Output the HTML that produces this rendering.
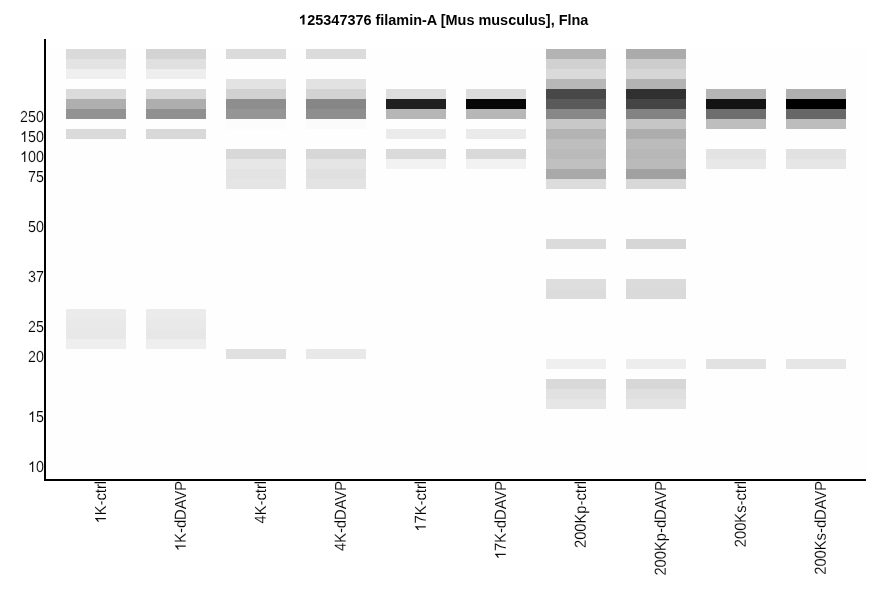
<!DOCTYPE html>
<html><head><meta charset="utf-8"><title>125347376 filamin-A [Mus musculus], Flna</title>
<style>
html,body{margin:0;padding:0;background:#fff;}
body{width:886px;height:595px;overflow:hidden;font-family:"Liberation Sans",sans-serif;}
svg{display:block;}
text{font-family:"Liberation Sans",sans-serif;fill:#000;}
.b{shape-rendering:crispEdges;}
.t{stroke:#fff;stroke-width:0.12px;}
.h{fill:none;stroke:none;}
.p{fill:#000;stroke:#fff;stroke-width:15px;}
</style></head><body>
<svg width="886" height="595" viewBox="0 0 886 595">
<rect x="0" y="0" width="886" height="595" fill="#ffffff"/>
<g class="b">
<rect x="46" y="49" width="820" height="430" fill="#fefefe"/>
<rect x="66" y="49" width="60" height="10" fill="#dadada"/>
<rect x="66" y="59" width="60" height="10" fill="#e3e3e3"/>
<rect x="66" y="69" width="60" height="10" fill="#efefef"/>
<rect x="66" y="89" width="60" height="10" fill="#dbdbdb"/>
<rect x="66" y="99" width="60" height="10" fill="#afafaf"/>
<rect x="66" y="109" width="60" height="10" fill="#929292"/>
<rect x="66" y="129" width="60" height="10" fill="#dadada"/>
<rect x="66" y="309" width="60" height="10" fill="#ebebeb"/>
<rect x="66" y="319" width="60" height="10" fill="#e9e9e9"/>
<rect x="66" y="329" width="60" height="10" fill="#e8e8e8"/>
<rect x="66" y="339" width="60" height="10" fill="#eeeeee"/>
<rect x="146" y="49" width="60" height="10" fill="#d3d3d3"/>
<rect x="146" y="59" width="60" height="10" fill="#e0e0e0"/>
<rect x="146" y="69" width="60" height="10" fill="#eeeeee"/>
<rect x="146" y="89" width="60" height="10" fill="#d9d9d9"/>
<rect x="146" y="99" width="60" height="10" fill="#aeaeae"/>
<rect x="146" y="109" width="60" height="10" fill="#909090"/>
<rect x="146" y="129" width="60" height="10" fill="#d8d8d8"/>
<rect x="146" y="309" width="60" height="10" fill="#ebebeb"/>
<rect x="146" y="319" width="60" height="10" fill="#e9e9e9"/>
<rect x="146" y="329" width="60" height="10" fill="#e7e7e7"/>
<rect x="146" y="339" width="60" height="10" fill="#eeeeee"/>
<rect x="226" y="49" width="60" height="10" fill="#dbdbdb"/>
<rect x="226" y="79" width="60" height="10" fill="#e3e3e3"/>
<rect x="226" y="89" width="60" height="10" fill="#d1d1d1"/>
<rect x="226" y="99" width="60" height="10" fill="#8e8e8e"/>
<rect x="226" y="109" width="60" height="10" fill="#959595"/>
<rect x="226" y="119" width="60" height="10" fill="#fcfcfc"/>
<rect x="226" y="149" width="60" height="10" fill="#d8d8d8"/>
<rect x="226" y="159" width="60" height="10" fill="#e7e7e7"/>
<rect x="226" y="169" width="60" height="10" fill="#e3e3e3"/>
<rect x="226" y="179" width="60" height="10" fill="#e5e5e5"/>
<rect x="226" y="349" width="60" height="10" fill="#e0e0e0"/>
<rect x="306" y="49" width="60" height="10" fill="#dbdbdb"/>
<rect x="306" y="79" width="60" height="10" fill="#e2e2e2"/>
<rect x="306" y="89" width="60" height="10" fill="#d3d3d3"/>
<rect x="306" y="99" width="60" height="10" fill="#868686"/>
<rect x="306" y="109" width="60" height="10" fill="#8e8e8e"/>
<rect x="306" y="119" width="60" height="10" fill="#fbfbfb"/>
<rect x="306" y="149" width="60" height="10" fill="#d7d7d7"/>
<rect x="306" y="159" width="60" height="10" fill="#e5e5e5"/>
<rect x="306" y="169" width="60" height="10" fill="#e0e0e0"/>
<rect x="306" y="179" width="60" height="10" fill="#e3e3e3"/>
<rect x="306" y="349" width="60" height="10" fill="#e8e8e8"/>
<rect x="386" y="89" width="60" height="10" fill="#dddddd"/>
<rect x="386" y="99" width="60" height="10" fill="#202020"/>
<rect x="386" y="109" width="60" height="10" fill="#b6b6b6"/>
<rect x="386" y="129" width="60" height="10" fill="#ebebeb"/>
<rect x="386" y="149" width="60" height="10" fill="#dadada"/>
<rect x="386" y="159" width="60" height="10" fill="#f2f2f2"/>
<rect x="466" y="89" width="60" height="10" fill="#dcdcdc"/>
<rect x="466" y="99" width="60" height="10" fill="#070707"/>
<rect x="466" y="109" width="60" height="10" fill="#b7b7b7"/>
<rect x="466" y="129" width="60" height="10" fill="#eaeaea"/>
<rect x="466" y="149" width="60" height="10" fill="#d9d9d9"/>
<rect x="466" y="159" width="60" height="10" fill="#f2f2f2"/>
<rect x="546" y="49" width="60" height="10" fill="#b3b3b3"/>
<rect x="546" y="59" width="60" height="10" fill="#d1d1d1"/>
<rect x="546" y="69" width="60" height="10" fill="#dadada"/>
<rect x="546" y="79" width="60" height="10" fill="#b8b8b8"/>
<rect x="546" y="89" width="60" height="10" fill="#484848"/>
<rect x="546" y="99" width="60" height="10" fill="#5a5a5a"/>
<rect x="546" y="109" width="60" height="10" fill="#888888"/>
<rect x="546" y="119" width="60" height="10" fill="#c8c8c8"/>
<rect x="546" y="129" width="60" height="10" fill="#b3b3b3"/>
<rect x="546" y="139" width="60" height="10" fill="#bebebe"/>
<rect x="546" y="149" width="60" height="10" fill="#bababa"/>
<rect x="546" y="159" width="60" height="10" fill="#c0c0c0"/>
<rect x="546" y="169" width="60" height="10" fill="#a9a9a9"/>
<rect x="546" y="179" width="60" height="10" fill="#dcdcdc"/>
<rect x="546" y="239" width="60" height="10" fill="#dbdbdb"/>
<rect x="546" y="279" width="60" height="10" fill="#dedede"/>
<rect x="546" y="289" width="60" height="10" fill="#dcdcdc"/>
<rect x="546" y="359" width="60" height="10" fill="#efefef"/>
<rect x="546" y="379" width="60" height="10" fill="#d9d9d9"/>
<rect x="546" y="389" width="60" height="10" fill="#e1e1e1"/>
<rect x="546" y="399" width="60" height="10" fill="#e6e6e6"/>
<rect x="626" y="49" width="60" height="10" fill="#ababab"/>
<rect x="626" y="59" width="60" height="10" fill="#cdcdcd"/>
<rect x="626" y="69" width="60" height="10" fill="#d6d6d6"/>
<rect x="626" y="79" width="60" height="10" fill="#b3b3b3"/>
<rect x="626" y="89" width="60" height="10" fill="#303030"/>
<rect x="626" y="99" width="60" height="10" fill="#454545"/>
<rect x="626" y="109" width="60" height="10" fill="#838383"/>
<rect x="626" y="119" width="60" height="10" fill="#c6c6c6"/>
<rect x="626" y="129" width="60" height="10" fill="#adadad"/>
<rect x="626" y="139" width="60" height="10" fill="#bbbbbb"/>
<rect x="626" y="149" width="60" height="10" fill="#b7b7b7"/>
<rect x="626" y="159" width="60" height="10" fill="#bababa"/>
<rect x="626" y="169" width="60" height="10" fill="#a1a1a1"/>
<rect x="626" y="179" width="60" height="10" fill="#d8d8d8"/>
<rect x="626" y="239" width="60" height="10" fill="#d6d6d6"/>
<rect x="626" y="279" width="60" height="10" fill="#dbdbdb"/>
<rect x="626" y="289" width="60" height="10" fill="#dadada"/>
<rect x="626" y="359" width="60" height="10" fill="#ededed"/>
<rect x="626" y="379" width="60" height="10" fill="#d7d7d7"/>
<rect x="626" y="389" width="60" height="10" fill="#dfdfdf"/>
<rect x="626" y="399" width="60" height="10" fill="#e4e4e4"/>
<rect x="706" y="89" width="60" height="10" fill="#b5b5b5"/>
<rect x="706" y="99" width="60" height="10" fill="#131313"/>
<rect x="706" y="109" width="60" height="10" fill="#6e6e6e"/>
<rect x="706" y="119" width="60" height="10" fill="#bebebe"/>
<rect x="706" y="149" width="60" height="10" fill="#e3e3e3"/>
<rect x="706" y="159" width="60" height="10" fill="#e8e8e8"/>
<rect x="706" y="359" width="60" height="10" fill="#e2e2e2"/>
<rect x="786" y="89" width="60" height="10" fill="#afafaf"/>
<rect x="786" y="99" width="60" height="10" fill="#000000"/>
<rect x="786" y="109" width="60" height="10" fill="#676767"/>
<rect x="786" y="119" width="60" height="10" fill="#bdbdbd"/>
<rect x="786" y="149" width="60" height="10" fill="#e1e1e1"/>
<rect x="786" y="159" width="60" height="10" fill="#e6e6e6"/>
<rect x="786" y="359" width="60" height="10" fill="#e6e6e6"/>
</g>
<g class="b"><rect x="44" y="39" width="2" height="442" fill="#000"/><rect x="44" y="479" width="822" height="2" fill="#000"/></g>
<g opacity="0.999">
<text x="443.8" y="24.6" text-anchor="middle" font-weight="bold" font-size="14.45px"><tspan class="h">1</tspan>25347376 filamin-A [Mus musculus], Flna</text>
<path d="M806 0H525V1059Q371 915 162 846V1101Q272 1137 401 1237.5T578 1472H806Z" transform="translate(298.819,24.6) scale(0.007056,-0.006703)"/>
<g transform="translate(43.8,122) rotate(0.2) scale(0.89,1)"><text text-anchor="end" font-size="16px" class="t">250</text></g>
<g transform="translate(43.8,142) rotate(0.2) scale(0.89,1)"><text text-anchor="end" font-size="16px" class="t"><tspan class="h">1</tspan>50</text><path class="p" d="M763 0H583V1147Q518 1085 412.5 1023T223 930V1104Q374 1175 487 1276T647 1472H763Z" transform="translate(-26.698,0) scale(0.007812,-0.007344)"/></g>
<g transform="translate(43.8,162) rotate(0.2) scale(0.89,1)"><text text-anchor="end" font-size="16px" class="t"><tspan class="h">1</tspan>00</text><path class="p" d="M763 0H583V1147Q518 1085 412.5 1023T223 930V1104Q374 1175 487 1276T647 1472H763Z" transform="translate(-26.698,0) scale(0.007812,-0.007344)"/></g>
<g transform="translate(43.8,182) rotate(0.2) scale(0.89,1)"><text text-anchor="end" font-size="16px" class="t">75</text></g>
<g transform="translate(43.8,232) rotate(0.2) scale(0.89,1)"><text text-anchor="end" font-size="16px" class="t">50</text></g>
<g transform="translate(43.8,282) rotate(0.2) scale(0.89,1)"><text text-anchor="end" font-size="16px" class="t">37</text></g>
<g transform="translate(43.8,332) rotate(0.2) scale(0.89,1)"><text text-anchor="end" font-size="16px" class="t">25</text></g>
<g transform="translate(43.8,362) rotate(0.2) scale(0.89,1)"><text text-anchor="end" font-size="16px" class="t">20</text></g>
<g transform="translate(43.8,422) rotate(0.2) scale(0.89,1)"><text text-anchor="end" font-size="16px" class="t"><tspan class="h">1</tspan>5</text><path class="p" d="M763 0H583V1147Q518 1085 412.5 1023T223 930V1104Q374 1175 487 1276T647 1472H763Z" transform="translate(-17.797,0) scale(0.007812,-0.007344)"/></g>
<g transform="translate(43.8,472) rotate(0.2) scale(0.89,1)"><text text-anchor="end" font-size="16px" class="t"><tspan class="h">1</tspan>0</text><path class="p" d="M763 0H583V1147Q518 1085 412.5 1023T223 930V1104Q374 1175 487 1276T647 1472H763Z" transform="translate(-17.797,0) scale(0.007812,-0.007344)"/></g>
<g transform="translate(106,480.9) rotate(-89.8) scale(0.921,1)"><text text-anchor="end" font-size="16px" class="t"><tspan class="h">1</tspan>K-ctrl</text><path class="p" d="M763 0H583V1147Q518 1085 412.5 1023T223 930V1104Q374 1175 487 1276T647 1472H763Z" transform="translate(-46.227,0) scale(0.007812,-0.007344)"/></g>
<g transform="translate(186,480.9) rotate(-89.8) scale(0.921,1)"><text text-anchor="end" font-size="16px" class="t"><tspan class="h">1</tspan>K-dDAVP</text><path class="p" d="M763 0H583V1147Q518 1085 412.5 1023T223 930V1104Q374 1175 487 1276T647 1472H763Z" transform="translate(-76.183,0) scale(0.007812,-0.007344)"/></g>
<g transform="translate(266,480.9) rotate(-89.8) scale(0.921,1)"><text text-anchor="end" font-size="16px" class="t">4K-ctrl</text></g>
<g transform="translate(346,480.9) rotate(-89.8) scale(0.921,1)"><text text-anchor="end" font-size="16px" class="t">4K-dDAVP</text></g>
<g transform="translate(426,480.9) rotate(-89.8) scale(0.921,1)"><text text-anchor="end" font-size="16px" class="t"><tspan class="h">1</tspan>7K-ctrl</text><path class="p" d="M763 0H583V1147Q518 1085 412.5 1023T223 930V1104Q374 1175 487 1276T647 1472H763Z" transform="translate(-55.125,0) scale(0.007812,-0.007344)"/></g>
<g transform="translate(506,480.9) rotate(-89.8) scale(0.921,1)"><text text-anchor="end" font-size="16px" class="t"><tspan class="h">1</tspan>7K-dDAVP</text><path class="p" d="M763 0H583V1147Q518 1085 412.5 1023T223 930V1104Q374 1175 487 1276T647 1472H763Z" transform="translate(-85.080,0) scale(0.007812,-0.007344)"/></g>
<g transform="translate(586,480.9) rotate(-89.8) scale(0.921,1)"><text text-anchor="end" font-size="16px" class="t">200Kp-ctrl</text></g>
<g transform="translate(666,480.9) rotate(-89.8) scale(0.921,1)"><text text-anchor="end" font-size="16px" class="t">200Kp-dDAVP</text></g>
<g transform="translate(746,480.9) rotate(-89.8) scale(0.921,1)"><text text-anchor="end" font-size="16px" class="t">200Ks-ctrl</text></g>
<g transform="translate(826,480.9) rotate(-89.8) scale(0.921,1)"><text text-anchor="end" font-size="16px" class="t">200Ks-dDAVP</text></g>
</g>
</svg>
</body></html>
